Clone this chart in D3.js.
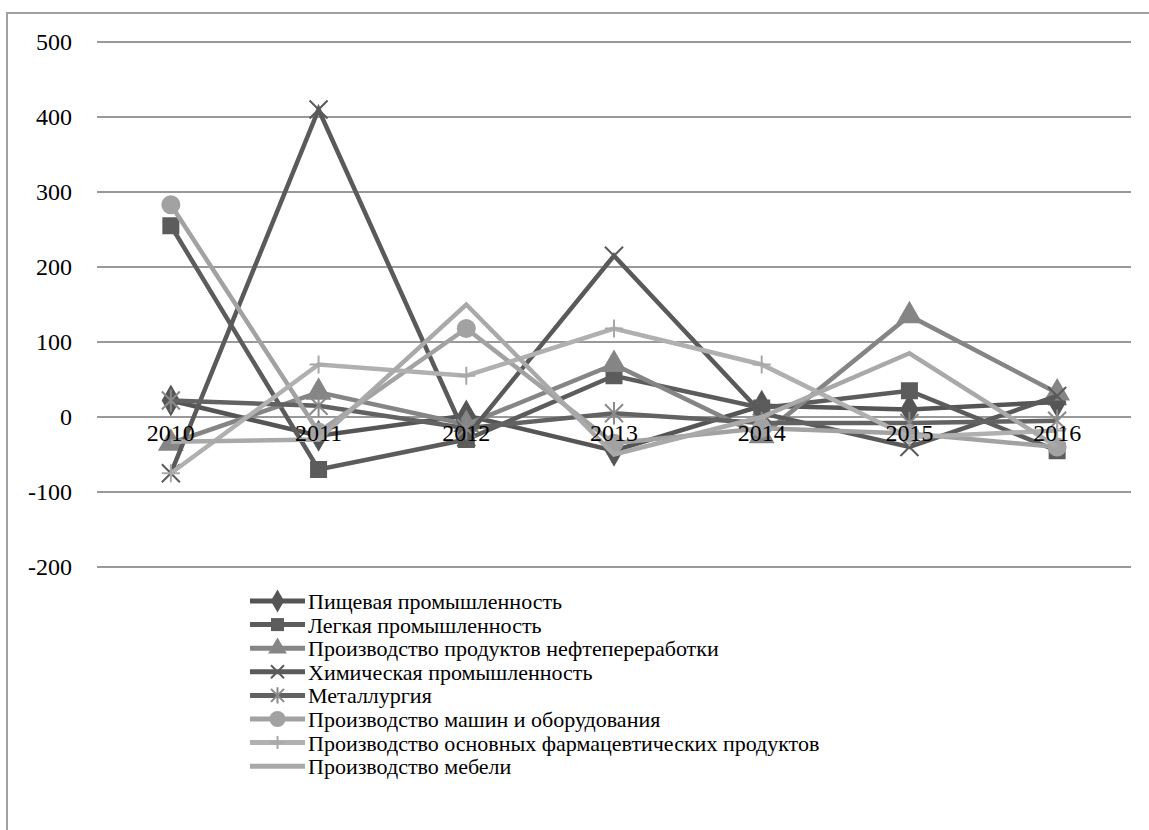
<!DOCTYPE html>
<html><head><meta charset="utf-8">
<script src="https://cdn.jsdelivr.net/npm/d3@7"></script>
<style>
body{margin:0;background:#fff;}
#c text, .ser{font-family:"Times New Roman", Tinos, "Liberation Serif", serif !important;}
</style>
</head><body>
<svg id="c" width="1149" height="830"></svg>
<script>
const years = ["2010","2011","2012","2013","2014","2015","2016"];
const yTicks = [-200,-100,0,100,200,300,400,500];
const names = ["Пищевая промышленность","Легкая промышленность","Производство продуктов нефтепереработки","Химическая промышленность","Металлургия","Производство машин и оборудования","Производство основных фармацевтических продуктов","Производство мебели"];
const food    = [22,-25,2,-45,15,10,20];
const light   = [255,-70,-30,55,12,35,-45];
const oil     = [-35,33,-10,70,-25,135,32];
const chem    = [-75,410,-27,215,5,-40,28];
const metal   = [22,15,-15,5,-8,-8,-5];
const machine = [283,-20,118,-35,-15,-22,-40];
const pharma  = [-75,70,55,118,70,-27,-18];
const furn    = [-33,-30,150,-50,0,85,-40];
const seriesVals = [food,light,oil,chem,metal,machine,pharma,furn];
const colors = ["#555555","#5c5c5c","#858585","#5a5a5a","#626262","#a2a2a2","#b0b0b0","#a9a9a9"];
const markerColors = ["#555555","#5c5c5c","#858585","#5a5a5a","#8a8a8a","#a2a2a2","#a8a8a8",null];
const markers = ["diamond","square","triangle","x","star","circle","plus","none"];

const svg = d3.select("#c");
const L = 97, R = 1131;
const x = d3.scaleBand().domain(years).range([L,R]);
const y = d3.scaleLinear().domain([-200,500]).range([567,42]);

svg.append("path").attr("d",`M7,830 L7,13 L1149,13`).attr("fill","none").attr("stroke","#a0a0a0").attr("stroke-width",2);

const gridG = svg.append("g");
gridG.selectAll("line").data(yTicks).join("line")
  .attr("x1",L).attr("x2",R).attr("y1",d=>y(d)).attr("y2",d=>y(d)).attr("stroke","#999").attr("stroke-width",2);
gridG.selectAll("text").data(yTicks).join("text").attr("class","ser")
  .attr("x",72).attr("y",d=>y(d)).attr("dy","0.32em").attr("text-anchor","end")
  .attr("font-size",24).attr("fill","#000").attr("font-family","Times New Roman").text(d=>String(d));

const cx = d => x(d) + x.bandwidth()/2;
function drawMarker(g, type, px, py, col, s){
  if(type==="diamond") g.append("path").attr("d",d3.symbol(d3.symbolDiamond, s*s*0.9)()).attr("transform",`translate(${px},${py})`).attr("fill",col);
  else if(type==="square") g.append("rect").attr("x",px-s/2).attr("y",py-s/2).attr("width",s).attr("height",s).attr("fill",col);
  else if(type==="triangle") g.append("path").attr("d",d3.symbol(d3.symbolTriangle, s*s*0.9)()).attr("transform",`translate(${px},${py})`).attr("fill",col);
  else if(type==="circle") g.append("circle").attr("cx",px).attr("cy",py).attr("r",s/2).attr("fill",col);
  else if(type==="x") g.append("path").attr("d",`M${px-s/2},${py-s/2}L${px+s/2},${py+s/2}M${px-s/2},${py+s/2}L${px+s/2},${py-s/2}`).attr("stroke",col).attr("stroke-width",2);
  else if(type==="plus") g.append("path").attr("d",`M${px-s/2},${py}L${px+s/2},${py}M${px},${py-s/2}L${px},${py+s/2}`).attr("stroke",col).attr("stroke-width",2);
  else if(type==="star") g.append("path").attr("d",`M${px-s/2},${py-s/2}L${px+s/2},${py+s/2}M${px-s/2},${py+s/2}L${px+s/2},${py-s/2}M${px},${py-s/1.6}L${px},${py+s/1.6}`).attr("stroke",col).attr("stroke-width",2);
}

const line = d3.line().x((d,i)=>cx(years[i])).y(d=>y(d));
const plot = svg.append("g");
seriesVals.forEach((vals,k)=>{
  plot.append("path").attr("d",line(vals)).attr("fill","none").attr("stroke",colors[k]).attr("stroke-width",4.5).attr("stroke-linejoin","miter");
  const mg = plot.append("g");
  vals.forEach((v,i)=>{ if(markers[k]!=="none") drawMarker(mg, markers[k], cx(years[i]), y(v), markerColors[k], markers[k]==="circle"?19:(markers[k]==="square"?17:18)); });
});

const xg = svg.append("g");
xg.selectAll("text").data(years).join("text").attr("class","ser")
  .attr("x",d=>cx(d)).attr("y",y(0)+24).attr("text-anchor","middle")
  .attr("font-size",24).attr("fill","#000").attr("font-family","Times New Roman").text(d=>d);

const lg = svg.append("g");
names.forEach((n,k)=>{
  const ly = 601 + k*23.6;
  lg.append("line").attr("x1",250).attr("x2",305).attr("y1",ly).attr("y2",ly).attr("stroke",colors[k]).attr("stroke-width",5);
  if(markers[k]!=="none") drawMarker(lg, markers[k], 277.5, ly, markerColors[k], markers[k]==="circle"?16:13);
  lg.append("text").attr("class","ser").attr("x",308).attr("y",ly+8).attr("font-size",22).attr("fill","#000").attr("font-family","Times New Roman").text(n);
});
</script>
</body></html>
